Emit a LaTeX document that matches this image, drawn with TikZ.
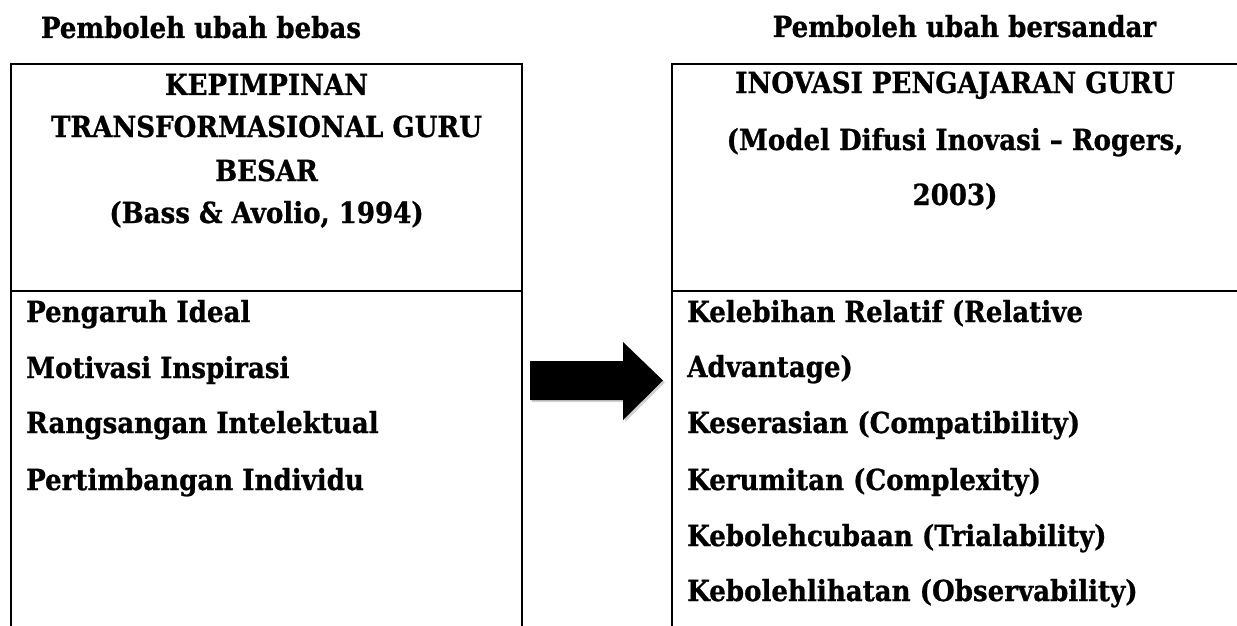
\documentclass[tikz,border=0pt]{standalone}
\usepackage{fontspec}
\IfFontExistsTF{DejaVu Serif Condensed}{\setmainfont[BoldFeatures={FakeBold=0.8}]{DejaVu Serif Condensed}}{\setmainfont{DejaVu Serif}}
\usetikzlibrary{shadows}
\begin{document}
\begin{tikzpicture}[x=1pt,y=-1pt,
  txt/.style={inner sep=0pt, font=\fontsize{29}{34}\selectfont\bfseries},
  lbl/.style={txt, anchor=base west},
  ttl/.style={txt, anchor=base},
  frame/.style={line width=2pt},
  blockarrow/.style={fill=black, drop shadow={opacity=0.35, shadow xshift=2pt, shadow yshift=-2pt}}
]
\useasboundingbox[fill=white] (0,0) rectangle (1237,626);
% frames
\draw[frame] (11,630) -- (11,64) -- (522,64) -- (522,630);
\draw[frame] (11,291) -- (522,291);
\draw[frame] (672,630) -- (672,64) -- (1241,64);
\draw[frame] (672,291) -- (1241,291);
% arrow
\fill[blockarrow] (530,361) -- (623,361) -- (623,342) -- (663,380.5) -- (623,420) -- (623,400) -- (530,400) -- cycle;
% headers
\node[ttl] (hl) at (201,38) {Pemboleh ubah bebas};
\node[ttl] (hr) at (964.5,37) {Pemboleh ubah bersandar};
% left title
\node[ttl] (l1) at (266.5,95) {KEPIMPINAN};
\node[ttl] (l2) at (266.5,137) {TRANSFORMASIONAL GURU};
\node[ttl] (l3) at (266.5,181) {BESAR};
\node[ttl] (l4) at (266.5,223) {(Bass \& Avolio, 1994)};
% right title
\node[ttl] (r1) at (955,93) {INOVASI PENGAJARAN GURU};
\node[ttl] (r2) at (955,150) {(Model Difusi Inovasi – Rogers,};
\node[ttl] (r3) at (955,205) {2003)};
% left items
\node[lbl] (a1) at (26,322) {Pengaruh Ideal};
\node[lbl] (a2) at (26,378) {Motivasi Inspirasi};
\node[lbl] (a3) at (26,433) {Rangsangan Intelektual};
\node[lbl] (a4) at (26,490) {Pertimbangan Individu};
% right items
\node[lbl] (b1) at (687,322) {Kelebihan Relatif (Relative};
\node[lbl] (b2) at (687,377) {Advantage)};
\node[lbl] (b3) at (687,433) {Keserasian (Compatibility)};
\node[lbl] (b4) at (687,490) {Kerumitan (Complexity)};
\node[lbl] (b5) at (687,546) {Kebolehcubaan (Trialability)};
\node[lbl] (b6) at (687,601) {Kebolehlihatan (Observability)};
\end{tikzpicture}
\end{document}
